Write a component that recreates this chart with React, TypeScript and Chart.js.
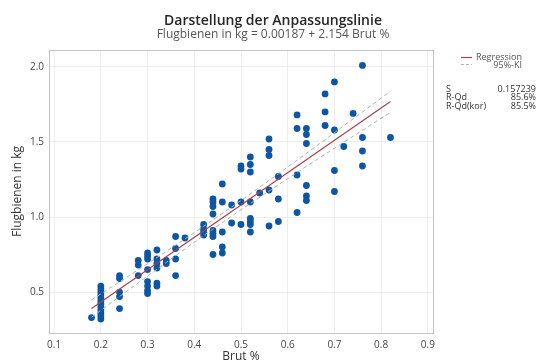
import React, { useEffect, useRef } from "react";
import { Chart, registerables } from "chart.js";

Chart.register(...registerables);

// Scatter data: Brut % (x) vs Flugbienen in kg (y)
const brutX = [
  0.18,
  0.2, 0.2, 0.2, 0.2, 0.2, 0.2, 0.2, 0.2, 0.2, 0.2, 0.2, 0.2,
  0.24, 0.24, 0.24, 0.24, 0.24,
  0.28, 0.28, 0.28,
  0.3, 0.3, 0.3, 0.3, 0.3, 0.3, 0.3, 0.3,
  0.32, 0.32, 0.32, 0.32, 0.32, 0.32,
  0.34, 0.34,
  0.36, 0.36, 0.36, 0.36,
  0.38,
  0.42, 0.42, 0.42, 0.42,
  0.44, 0.44, 0.44, 0.44, 0.44, 0.44, 0.44, 0.44,
  0.46, 0.46, 0.46, 0.46, 0.46,
  0.48, 0.48,
  0.5, 0.5, 0.5, 0.5,
  0.52, 0.52, 0.52, 0.52, 0.52, 0.52, 0.52, 0.52,
  0.54,
  0.56, 0.56, 0.56, 0.56, 0.56,
  0.58, 0.58, 0.58,
  0.62, 0.62, 0.62, 0.62,
  0.64, 0.64, 0.64, 0.64, 0.64, 0.64,
  0.68, 0.68, 0.68,
  0.7, 0.7, 0.7, 0.7,
  0.72,
  0.74,
  0.76, 0.76, 0.76, 0.76,
  0.82,
];
const flugY = [
  0.33,
  0.32, 0.34, 0.36, 0.38, 0.40, 0.42, 0.44, 0.46, 0.48, 0.50, 0.52, 0.54,
  0.61, 0.59, 0.50, 0.47, 0.39,
  0.71, 0.68, 0.61,
  0.76, 0.74, 0.72, 0.65, 0.57, 0.54, 0.51, 0.49,
  0.78, 0.72, 0.69, 0.66, 0.56, 0.54,
  0.71, 0.69,
  0.87, 0.79, 0.72, 0.61,
  0.86,
  0.95, 0.92, 0.90, 0.88,
  1.12, 1.10, 1.07, 1.02, 0.91, 0.89, 0.87, 0.75,
  1.22, 1.10, 0.90, 0.80, 0.76,
  1.08, 0.96,
  1.34, 1.32, 1.10, 0.95,
  1.40, 1.35, 1.30, 1.10, 0.99, 0.97, 0.95, 0.90,
  1.16,
  1.52, 1.45, 1.41, 1.18, 0.94,
  1.27, 1.12, 0.97,
  1.68, 1.59, 1.28, 1.03,
  1.59, 1.55, 1.49, 1.21, 1.14, 1.11,
  1.82, 1.70, 1.61,
  1.90, 1.58, 1.31, 1.17,
  1.47,
  1.69,
  2.01, 1.53, 1.44, 1.34,
  1.53,
];

// Fitted line (Flugbienen = 0.00187 + 2.154 Brut %), endpoints
const regX = [0.18, 0.82];
const regY = [0.39, 1.77];

// 95% confidence band
const ciX = [0.18, 0.26, 0.34, 0.42, 0.5, 0.58, 0.66, 0.74, 0.82];
const ciUpper = [0.448, 0.608, 0.771, 0.938, 1.11, 1.288, 1.47, 1.654, 1.838];
const ciLower = [0.332, 0.516, 0.697, 0.876, 1.048, 1.214, 1.378, 1.538, 1.698];

const xTicks = [0.1, 0.2, 0.3, 0.4, 0.5, 0.6, 0.7, 0.8, 0.9];
const yTicks = [0.5, 1.0, 1.5, 2.0];

const statLabels = ["S", "R-Qd", "R-Qd(kor)"];
const statValues = ["0.157239", "85.6%", "85.5%"];

const FONT = "'Open Sans', 'Noto Sans', sans-serif";
const POINT_COLOR = "#0E56A4";
const REG_COLOR = "#A8424C";
const CI_COLOR = "#A9B5AA";

const decorPlugin = {
  id: "decor",
  beforeDatasetsDraw(chart: any) {
    const { ctx, chartArea } = chart;
    ctx.save();
    ctx.strokeStyle = "#c4c4c4";
    ctx.lineWidth = 1;
    ctx.strokeRect(
      Math.round(chartArea.left) + 0.5,
      Math.round(chartArea.top) + 0.5,
      Math.round(chartArea.right - chartArea.left),
      Math.round(chartArea.bottom - chartArea.top)
    );
    ctx.restore();
  },
  afterDraw(chart: any) {
    const { ctx, chartArea } = chart;
    ctx.save();
    // Titles
    ctx.textAlign = "center";
    ctx.textBaseline = "middle";
    ctx.fillStyle = "#262626";
    ctx.font = `600 14px ${FONT}`;
    ctx.fillText("Darstellung der Anpassungslinie", 273, 21);
    ctx.fillStyle = "#555555";
    ctx.font = `12px ${FONT}`;
    ctx.fillText("Flugbienen in kg = 0.00187 + 2.154 Brut %", 273, 35);

    // Axis titles
    ctx.fillStyle = "#333333";
    ctx.font = `12px ${FONT}`;
    ctx.fillText("Brut %", (chartArea.left + chartArea.right) / 2, 357);
    ctx.save();
    ctx.translate(18, (chartArea.top + chartArea.bottom) / 2);
    ctx.rotate(-Math.PI / 2);
    ctx.fillText("Flugbienen in kg", 0, 0);
    ctx.restore();

    // Legend
    ctx.lineWidth = 1.2;
    ctx.strokeStyle = REG_COLOR;
    ctx.beginPath();
    ctx.moveTo(461, 57.5);
    ctx.lineTo(472, 57.5);
    ctx.stroke();
    ctx.strokeStyle = CI_COLOR;
    ctx.lineWidth = 1;
    ctx.setLineDash([3, 2]);
    ctx.beginPath();
    ctx.moveTo(461, 64.5);
    ctx.lineTo(472, 64.5);
    ctx.stroke();
    ctx.setLineDash([]);

    ctx.font = `9px ${FONT}`;
    ctx.textAlign = "right";
    ctx.fillStyle = "#555555";
    ctx.fillText("Regression", 522, 57);
    ctx.fillText("95%-KI", 522, 65);

    ctx.fillStyle = "#333333";
    statLabels.forEach((lab, i) => {
      const y = 89 + i * 8.7;
      ctx.textAlign = "left";
      ctx.fillText(lab, 446, y);
      ctx.textAlign = "right";
      ctx.fillText(statValues[i], 536, y);
    });
    ctx.restore();
  },
};

export default function App() {
  const ref = useRef<HTMLCanvasElement | null>(null);

  useEffect(() => {
    if (!ref.current) return;
    const points = brutX.map((x, i) => ({ x, y: flugY[i] }));
    const reg = regX.map((x, i) => ({ x, y: regY[i] }));
    const up = ciX.map((x, i) => ({ x, y: ciUpper[i] }));
    const lo = ciX.map((x, i) => ({ x, y: ciLower[i] }));

    const chart = new Chart(ref.current, {
      type: "scatter",
      data: {
        datasets: [
          {
            label: "Daten",
            data: points,
            backgroundColor: POINT_COLOR,
            borderColor: POINT_COLOR,
            borderWidth: 0,
            pointRadius: 3.4,
            order: 3,
          },
          {
            label: "95%-KI oben",
            data: up,
            showLine: true,
            borderColor: CI_COLOR,
            borderWidth: 1,
            borderDash: [4, 3],
            pointRadius: 0,
            tension: 0.4,
            cubicInterpolationMode: "monotone",
            order: 2,
          },
          {
            label: "95%-KI unten",
            data: lo,
            showLine: true,
            borderColor: CI_COLOR,
            borderWidth: 1,
            borderDash: [4, 3],
            pointRadius: 0,
            tension: 0.4,
            cubicInterpolationMode: "monotone",
            order: 2,
          },
          {
            label: "Regression",
            data: reg,
            showLine: true,
            borderColor: REG_COLOR,
            borderWidth: 1.2,
            pointRadius: 0,
            order: 1,
          },
        ],
      } as any,
      options: {
        responsive: false,
        animation: false,
        layout: { padding: { top: 50, right: 105, left: 0, bottom: 0 } },
        plugins: {
          legend: { display: false },
          title: { display: false },
          tooltip: { enabled: false },
        },
        scales: {
          x: {
            type: "linear",
            min: 0.089,
            max: 0.911,
            afterBuildTicks: (s: any) => {
              s.ticks = xTicks.map((v) => ({ value: v }));
            },
            afterFit: (s: any) => {
              s.height = 29;
            },
            grid: { color: "#eeeeee", drawTicks: false },
            border: { display: false },
            ticks: {
              autoSkip: false,
              maxRotation: 0,
              padding: 6,
              color: "#444444",
              font: { size: 10, family: FONT },
              callback: (v: any) => Number(v).toFixed(1),
            },
          },
          y: {
            type: "linear",
            min: 0.227,
            max: 2.113,
            afterBuildTicks: (s: any) => {
              s.ticks = yTicks.map((v) => ({ value: v }));
            },
            afterFit: (s: any) => {
              s.width = 49;
            },
            grid: { color: "#eeeeee", drawTicks: false },
            border: { display: false },
            ticks: {
              autoSkip: false,
              padding: 5,
              color: "#444444",
              font: { size: 10, family: FONT },
              callback: (v: any) => Number(v).toFixed(1),
            },
          },
        },
      } as any,
      plugins: [decorPlugin],
    });
    return () => chart.destroy();
  }, []);

  return (
    <div style={{ position: "fixed", left: 0, top: 0, width: 538, height: 362, background: "#fff" }}>
      <canvas ref={ref} width={538} height={362} style={{ display: "block" }} />
    </div>
  );
}
